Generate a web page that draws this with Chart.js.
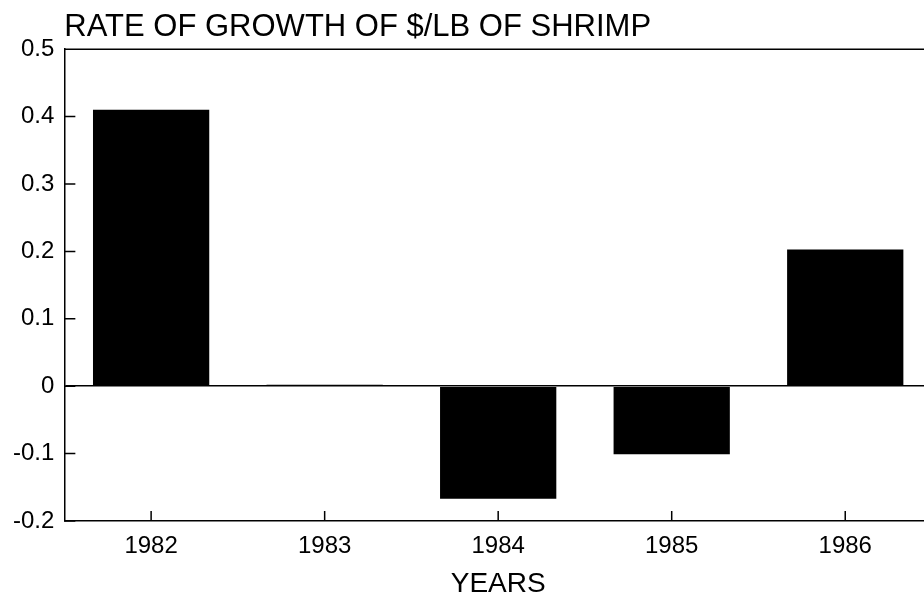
<!DOCTYPE html>
<html>
<head>
<meta charset="utf-8">
<title>rate of growth</title>
<script src="https://cdn.jsdelivr.net/npm/chart.js@4/dist/chart.umd.min.js"></script>
<style>
    html, body { margin: 0; padding: 0; background: #fff; overflow: hidden; }
    #wrap { width: 940px; height: 597px; }
</style>
</head>
<body>
<div id="wrap"><canvas id="chartGrowth" width="940" height="597"></canvas></div>
<script>
// data
const years = ['1982', '1983', '1984', '1985', '1986'];
const growth = [0.41, 0.002, -0.167, -0.101, 0.203];
const yTicks = [-0.2, -0.1, 0, 0.1, 0.2, 0.3, 0.4, 0.5];

const fontFamily = '"Liberation Sans", Arial, Helvetica, sans-serif';

// frame: top border + inward tick marks
const frame = {
    id: 'frame',
    afterDatasetsDraw(chart) {
        let { ctx, chartArea: a, scales: { x, y } } = chart;
        ctx.save();
        ctx.strokeStyle = '#000';
        ctx.lineWidth = 1.5;
        ctx.beginPath();
        ctx.moveTo(a.left, a.top);
        ctx.lineTo(a.right, a.top);
        y.ticks.forEach((t, i) => {
            let py = y.getPixelForTick(i);
            ctx.moveTo(a.left, py);
            ctx.lineTo(a.left + 11, py);
        });
        x.ticks.forEach((t, i) => {
            let px = x.getPixelForTick(i);
            ctx.moveTo(px, a.bottom);
            ctx.lineTo(px, a.bottom - 10);
        });
        ctx.stroke();
        ctx.restore();
    }
};

var data = {
    labels: years,
    datasets: [{
        data: growth,
        backgroundColor: '#000',
        borderWidth: 0,
        categoryPercentage: 1,
        barPercentage: 0.67
    }]
};

var options = {
    responsive: false,
    animation: false,
    layout: { padding: { left: 3, right: 8, top: 0, bottom: 0 } },
    plugins: {
        legend: { display: false },
        tooltip: { enabled: false },
        title: {
            display: true,
            text: 'RATE OF GROWTH OF $/LB OF SHRIMP',
            align: 'start',
            fullSize: false,
            color: '#000',
            font: { family: fontFamily, size: 31, weight: 'normal' },
            padding: { top: 9, bottom: 3 }
        }
    },
    scales: {
        x: {
            grid: { display: false, drawTicks: false },
            border: { color: '#000', width: 1.5 },
            ticks: {
                color: '#000', padding: 11, maxRotation: 0,
                font: { family: fontFamily, size: 24 }
            },
            title: {
                display: true, text: 'YEARS', color: '#000',
                font: { family: fontFamily, size: 28, lineHeight: 0.9 },
                padding: { top: 0, bottom: 0 }
            }
        },
        y: {
            min: -0.2,
            max: 0.5,
            afterBuildTicks: (axis) => { axis.ticks = yTicks.map(v => ({ value: v })); },
            grid: {
                drawTicks: false,
                color: (c) => c.tick && c.tick.value === 0 ? '#000' : 'rgba(0,0,0,0)',
                lineWidth: 1.5
            },
            border: { color: '#000', width: 1.5 },
            ticks: {
                color: '#000', padding: 10,
                font: { family: fontFamily, size: 24 },
                callback: (v) => v === 0 ? '0' : v.toFixed(1)
            }
        }
    }
};

new Chart(chartGrowth.getContext('2d'), { type: 'bar', data, options, plugins: [frame] });
</script>
</body>
</html>
